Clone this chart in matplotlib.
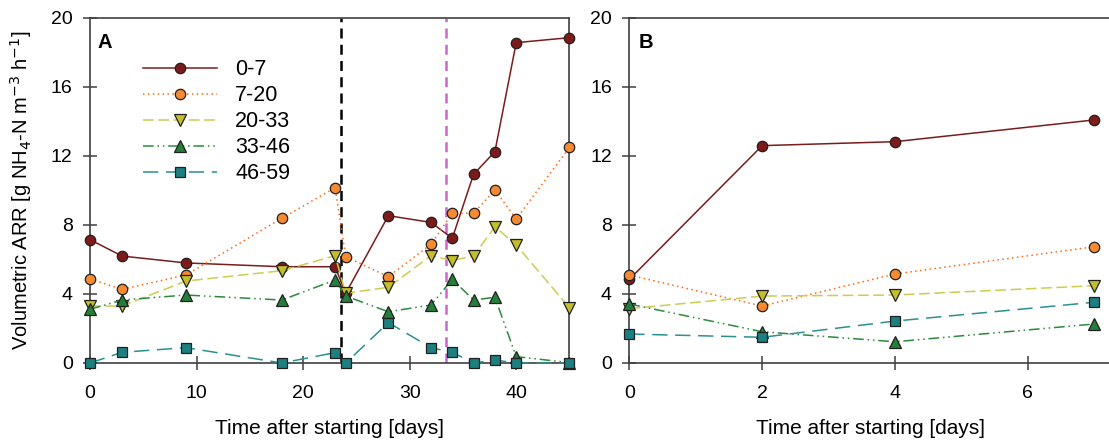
import matplotlib
matplotlib.use("Agg")
import matplotlib.pyplot as plt

plt.rcParams.update({
    "font.family": ["Liberation Sans", "DejaVu Sans"],
    "font.size": 14,
    "axes.linewidth": 1.2,
    "axes.edgecolor": "#404040",
})

LABELS = ["0-7", "7-20", "20-33", "33-46", "46-59"]

# panel A: days after starting
days_a = [0, 3, 9, 18, 23, 24, 28, 32, 34, 36, 38, 40, 45]
arr_a = {
    "0-7":   [7.15, 6.2, 5.8, 5.58, 5.58, 4.04, 8.54, 8.15, 7.23, 10.94, 12.25, 18.57, 18.86],
    "7-20":  [4.87, 4.27, 5.1, 8.39, 10.16, 6.16, 5.0, 6.88, 8.68, 8.68, 10.03, 8.35, 12.5],
    "20-33": [3.3, 3.3, 4.75, 5.35, 6.22, 4.04, 4.39, 6.22, 5.93, 6.22, 7.9, 6.84, 3.2],
    "33-46": [3.11, 3.65, 3.94, 3.65, 4.81, 3.88, 2.97, 3.36, 4.85, 3.65, 3.81, 0.37, 0.02],
    "46-59": [0.0, 0.62, 0.89, 0.0, 0.6, 0.0, 2.34, 0.89, 0.62, 0.0, 0.17, 0.0, 0.0],
}

# panel B
days_b = [0, 2, 4, 7]
arr_b = {
    "0-7":   [4.85, 12.6, 12.83, 14.09],
    "7-20":  [5.1, 3.3, 5.16, 6.74],
    "20-33": [3.15, 3.88, 3.94, 4.48],
    "33-46": [3.42, 1.81, 1.23, 2.26],
    "46-59": [1.68, 1.49, 2.43, 3.52],
}

event_days = [23.6, 33.4]

STYLE = {
    "0-7":   dict(color="#7a1c1c", mfc="#7f1a1a", ls="-", marker="o", ms=7.5),
    "7-20":  dict(color="#ff6a10", mfc="#f68a30", ls=(0, (1, 2.2)), marker="o", ms=7.5),
    "20-33": dict(color="#cccc50", mfc="#c4be28", ls=(0, (7, 3)), marker="v", ms=8),
    "33-46": dict(color="#2b8a3e", mfc="#23803a", ls=(0, (7, 2.5, 1, 2.5, 1, 2.5)), marker="^", ms=8),
    "46-59": dict(color="#2a9090", mfc="#1d8080", ls=(0, (10, 5)), marker="s", ms=7),
}


def draw(ax, x, series):
    for lab in LABELS:
        st = STYLE[lab]
        ax.plot(x, series[lab], color=st["color"], ls=st["ls"], lw=1.1,
                marker=st["marker"], ms=st["ms"], mfc=st["mfc"], mec="#202020",
                mew=0.9, label=lab, clip_on=False, zorder=3)
    ax.set_ylim(0, 20)
    ax.set_yticks(range(0, 21, 4))
    ax.tick_params(direction="inout", length=10, width=1.1, color="#404040",
                   labelsize=14)
    ax.tick_params(axis="x", pad=11)
    ax.tick_params(axis="y", pad=7.5)
    ax.set_xlabel("Time after starting [days]", fontsize=15, labelpad=12)


fig = plt.figure(figsize=(11.09, 4.43), dpi=100)
ax_a = fig.add_axes([0.0812, 0.1806, 0.4323, 0.7788])
ax_b = fig.add_axes([0.5675, 0.1806, 0.4341, 0.7788])

draw(ax_a, days_a, arr_a)
ax_a.axvline(event_days[0], color="black", ls=(0, (4, 2.5)), lw=1.8, zorder=2)
ax_a.axvline(event_days[1], color="#cc66cc", ls=(0, (4, 2.5)), lw=1.8, zorder=2)
ax_a.set_xlim(0, 45)
ax_a.set_xticks(range(0, 41, 10))
ax_a.set_ylabel("Volumetric ARR [g NH$_4$-N m$^{-3}$ h$^{-1}$]", fontsize=14.5, labelpad=12)
ax_a.text(0.015, 0.957, "A", transform=ax_a.transAxes, fontsize=14.5,
          fontweight="bold", va="top")
ax_a.legend(loc="upper left", bbox_to_anchor=(0.0926, 0.905), borderaxespad=0,
            frameon=False, handlelength=3.44, handletextpad=0.84,
            labelspacing=0.23, fontsize=15.5)

draw(ax_b, days_b, arr_b)
ax_b.set_xlim(0, 7.25)
ax_b.set_xticks([0, 2, 4, 6])
ax_b.text(0.019, 0.957, "B", transform=ax_b.transAxes, fontsize=14.5,
          fontweight="bold", va="top")

fig.savefig("out.png", dpi=100)
